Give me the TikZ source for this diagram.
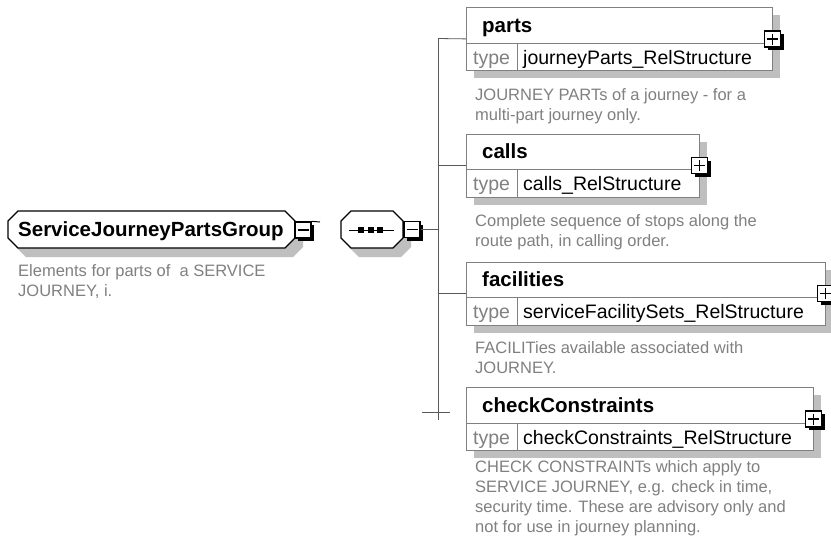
\documentclass[tikz,border=0pt]{standalone}
\usepackage{fontspec}
\setmainfont{Liberation Sans}
\tikzset{
  shadowfill/.style={fill=black!25},
  ebox/.style={draw=black!50, line width=0.8pt, fill=white, shape=rectangle, inner sep=0pt, anchor=north west},
  eline/.style={draw=black!50, line width=0.8pt},
  conn/.style={draw=black!65, line width=0.8pt},
  etitle/.style={font=\fontsize{20.5}{24}\selectfont\bfseries, inner sep=0pt, anchor=base west},
  ekey/.style={font=\fontsize{19.5}{24}\selectfont, text=black!50, inner sep=0pt, anchor=base west},
  etype/.style={font=\fontsize{19.5}{24}\selectfont, inner sep=0pt, anchor=base west},
  edesc/.style={font=\fontsize{16.5}{20}\selectfont, text=black!50, inner sep=0pt, anchor=north west, align=left},
  sq/.style={draw=black, fill=white, line width=1.4pt, shape=rectangle, inner sep=0pt, minimum size=16pt},
  octo/.style={draw=black, line width=1.2pt, fill=white},
}
% octagon path: x0,y0,x1,y1
\newcommand\octpath[4]{(#1+10,#2) -- (#3-10,#2) -- (#3,#2+10) -- (#3,#4-10) -- (#3-10,#4) -- (#1+10,#4) -- (#1,#4-10) -- (#1,#2+10) -- cycle}
\newcommand\plusbox[3]{%
  \fill[black] (#2-8+3,#3-8+3) rectangle (#2+8+3,#3+8+3);
  \node[sq] (#1) at (#2,#3) {};
  \draw[black,line width=1.2pt] (#2-5.5,#3) -- (#2+5.5,#3);
  \draw[black,line width=1.2pt] (#2,#3-5.5) -- (#2,#3+5.5);
}
\newcommand\minusbox[3]{%
  \fill[black] (#2-8+3,#3-8+3) rectangle (#2+8+3,#3+8+3);
  \node[sq] (#1) at (#2,#3) {};
  \draw[black,line width=1.2pt] (#2-5.5,#3) -- (#2+5.5,#3);
}
% element box: name, top, right, title, type
\newcommand\elembox[5]{%
  \fill[shadowfill] (474,#2+8) rectangle (#3+8,#2+71);
  \node[ebox, minimum width={#3pt-466pt}, minimum height=63pt] (#1) at (466,#2) {};
  \draw[eline] (466,#2+36) -- (#3,#2+36);
  \draw[eline] (517,#2+36) -- (517,#2+63);
  \node[etitle] (#1-title) at (482,#2+25) {#4};
  \node[ekey] (#1-key) at (473,#2+57) {type};
  \node[etype] (#1-type) at (523,#2+57) {#5};
  \plusbox{#1-plus}{#3+0.5}{#2+32}%
}
\begin{document}
\begin{tikzpicture}[x=1pt,y=-1pt]
\useasboundingbox (0,0) rectangle (831,547);
\fill[white] (0,0) rectangle (831,547);

% group element
\fill[shadowfill] \octpath{16}{220}{303}{257};
\draw[octo] \octpath{8}{211}{295}{248};
\node[etitle] (grp) at (18,236.7) {ServiceJourneyPartsGroup};
\minusbox{grpminus}{303}{230}
\coordinate (grpstub) at (320,222);
\draw[black, line width=1pt] (grpminus.north east) -- (grpstub);
\node[edesc] (grpdesc) at (18,262.7) {\strut Elements for parts of\ \ a SERVICE\\\strut JOURNEY, i.};

% sequence compositor
\fill[shadowfill] \octpath{349}{220}{411}{257};
\draw[octo] \octpath{341}{211}{403}{248};
\coordinate (seqL) at (349,230);
\coordinate (seqR) at (394,230);
\draw[black, line width=1pt] (seqL) -- (seqR);
\fill[black] (358,227) rectangle (364,233);
\fill[black] (367.5,227) rectangle (373.5,233);
\fill[black] (377,227) rectangle (383,233);
\minusbox{seqminus}{412}{229.5}

% bus
\coordinate (busTop) at (438,38.5);
\coordinate (busBot) at (438,420);
\draw[conn] (busTop) -- (busBot);
\draw[conn] (seqminus.east) -- (seqminus.east -| busTop);

% elements
\elembox{parts}{7}{772}{parts}{journeyParts\_RelStructure}
\elembox{calls}{133.5}{699}{calls}{calls\_RelStructure}
\elembox{facilities}{261.5}{825}{facilities}{serviceFacilitySets\_RelStructure}
\elembox{checkc}{387}{813}{checkConstraints}{checkConstraints\_RelStructure}

\draw[conn] (busTop) -- (parts.west);
\draw[conn] (calls.west -| busTop) -- (calls.west);
\draw[conn] (facilities.west -| busTop) -- (facilities.west);
\coordinate (ccStubL) at (422,412);
\coordinate (ccStubR) at (450,412);
\draw[conn] (ccStubL) -- (ccStubR);

% descriptions
\node[edesc] (partsdesc) at (475,86) {\strut JOURNEY PARTs of a journey - for a\\\strut multi-part journey only.};
\node[edesc] (callsdesc) at (475,212.5) {\strut Complete sequence of stops along the\\\strut route path, in calling order.};
\node[edesc] (facdesc) at (475,339) {\strut FACILITies available associated with\\\strut JOURNEY.};
\node[edesc] (ccdesc) at (475,458.5) {\strut CHECK CONSTRAINTs which apply to\\\strut SERVICE JOURNEY, e.g. check in time,\\\strut security time. These are advisory only and\\\strut not for use in journey planning.};
\end{tikzpicture}
\end{document}
